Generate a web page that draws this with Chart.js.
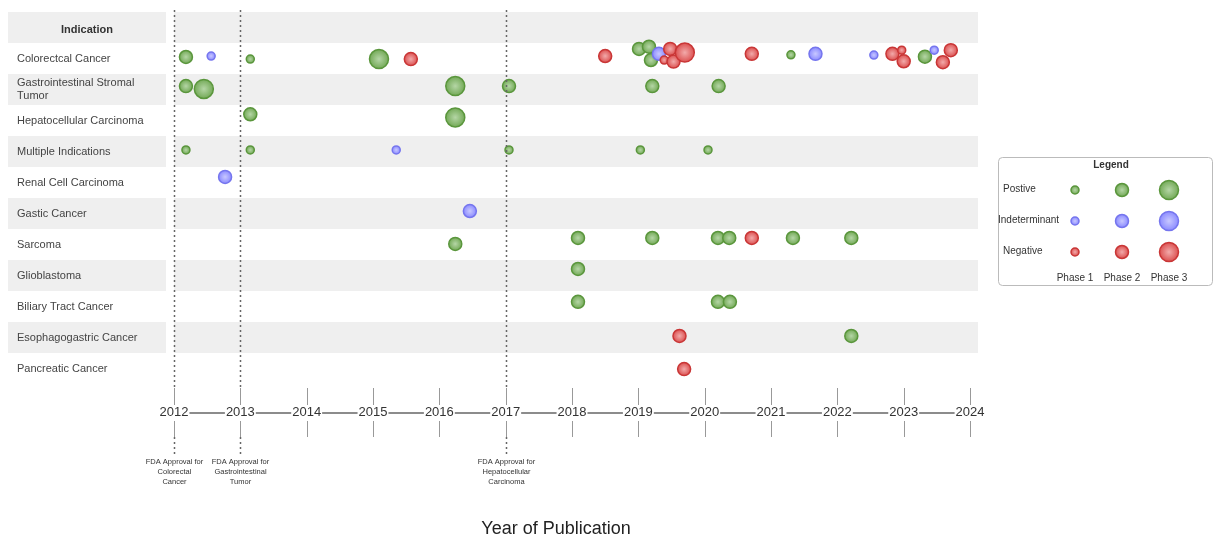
<!DOCTYPE html>
<html>
<head>
<meta charset="utf-8">
<script src="https://cdn.jsdelivr.net/npm/chart.js@4.4.1/dist/chart.umd.min.js"></script>
<style>
  body { margin: 0; background: #fff; }
  #wrap { width: 1214px; height: 537px; }
</style>
</head>
<body>
<div id="wrap"><canvas id="timeline"></canvas></div>
<script>
// rows, top to bottom (row 0 is the "Indication" header)
const indications = [
  'Colorectcal Cancer', 'Gastrointestinal Stromal Tumor', 'Hepatocellular Carcinoma',
  'Multiple Indications', 'Renal Cell Carcinoma', 'Gastic Cancer', 'Sarcoma',
  'Glioblastoma', 'Biliary Tract Cancer', 'Esophagogastric Cancer', 'Pancreatic Cancer'
];
const yearTicks = [2012, 2013, 2014, 2015, 2016, 2017, 2018, 2019, 2020, 2021, 2022, 2023, 2024];
const outcomes = ['Postive', 'Indeterminant', 'Negative'];
const phaseLabels = ['Phase 1', 'Phase 2', 'Phase 3'];

const approvalYears = [2012, 2013, 2017];
const approvalNotes = [
  ['FDA Approval for', 'Colorectal', 'Cancer'],
  ['FDA Approval for', 'Gastrointestinal', 'Tumor'],
  ['FDA Approval for', 'Hepatocellular', 'Carcinoma']
];

// positive
const posYear  = [2012.18, 2013.15, 2015.09, 2019.01, 2019.16, 2019.19, 2021.30, 2023.32,
                  2012.18, 2012.45, 2016.24, 2017.05, 2019.21, 2020.21,
                  2013.15, 2016.24,
                  2012.18, 2013.15, 2017.05, 2019.03, 2020.05,
                  2016.24, 2018.09, 2019.21, 2020.20, 2020.37, 2021.33, 2022.21,
                  2018.09,
                  2018.09, 2020.20, 2020.38,
                  2022.21];
const posRow   = [0.95, 1.02, 1.02, 0.69, 0.62, 1.05, 0.88, 0.94,
                  1.89, 1.98, 1.89, 1.89, 1.89, 1.89,
                  2.80, 2.90,
                  3.95, 3.95, 3.95, 3.95, 3.95,
                  6.98, 6.79, 6.79, 6.79, 6.79, 6.79, 6.79,
                  7.79,
                  8.85, 8.85, 8.85,
                  9.95];
const posPhase = [2, 1, 3, 2, 2, 2, 1, 2,
                  2, 3, 3, 2, 2, 2,
                  2, 3,
                  1, 1, 1, 1, 1,
                  2, 2, 2, 2, 2, 2, 2,
                  2,
                  2, 2, 2,
                  2];

// indeterminant
const indYear  = [2012.56, 2019.31, 2021.67, 2022.55, 2023.46, 2015.35, 2012.77, 2016.46];
const indRow   = [0.92, 0.85, 0.85, 0.89, 0.73, 3.95, 4.82, 5.92];
const indPhase = [1, 2, 2, 1, 1, 1, 2, 2];

// negative
const negYear  = [2015.57, 2018.50, 2019.39, 2019.48, 2019.53, 2019.70, 2020.71, 2022.83,
                  2022.97, 2023.00, 2023.59, 2023.71, 2020.71, 2019.62, 2019.69];
const negRow   = [1.02, 0.92, 1.05, 0.69, 1.10, 0.81, 0.85, 0.85,
                  0.73, 1.09, 1.12, 0.73, 6.79, 9.95, 11.02];
const negPhase = [2, 2, 1, 2, 2, 3, 2, 2,
                  1, 2, 2, 2, 2, 2, 2];

const phaseRadius = [4, 6.5, 9.5];
const palettes = [
  { center: '#b5d6a6', edge: '#74aa58', border: '#5a963c' },
  { center: '#c8c8ff', edge: '#8c8cff', border: '#7575ee' },
  { center: '#f2aaaa', edge: '#dc5252', border: '#c93636' }
];
const family = '"Liberation Sans", Arial, sans-serif';
Chart.defaults.font.family = family;

function points(years, rows, phases) {
  return years.map((x, i) => ({ x: x, y: rows[i], r: phaseRadius[phases[i] - 1] }));
}

function radial(ctx, px, py, r, pal) {
  const g = ctx.createRadialGradient(px, py, 0, px, py, r);
  g.addColorStop(0, pal.center);
  g.addColorStop(1, pal.edge);
  return g;
}

function shade(pal) {
  return c => {
    if (c.type !== 'data' || !c.raw) return pal.edge;
    const s = c.chart.scales;
    if (!s.x || !s.y) return pal.edge;
    const px = s.x.getPixelForValue(c.raw.x);
    const py = s.y.getPixelForValue(c.raw.y);
    if (!isFinite(px) || !isFinite(py)) return pal.edge;
    return radial(c.chart.ctx, px, py, c.raw.r, pal);
  };
}

const rowBands = {
  id: 'rowBands',
  beforeDraw(chart) {
    const { ctx, chartArea, scales: { y } } = chart;
    ctx.save();
    ctx.fillStyle = '#efefef';
    for (let v = 0; v <= indications.length; v += 2) {
      const top = y.getPixelForValue(v - 0.5);
      const h = y.getPixelForValue(v + 0.5) - top;
      ctx.fillRect(8, top, 158, h);
      ctx.fillRect(chartArea.left, top, chartArea.right - chartArea.left, h);
    }
    ctx.font = 'bold 11px ' + family;
    ctx.fillStyle = '#333';
    ctx.textAlign = 'center';
    ctx.textBaseline = 'middle';
    ctx.fillText('Indication', 87, y.getPixelForValue(0) + 2);
    ctx.restore();
  }
};

const timelineAxis = {
  id: 'timelineAxis',
  afterDraw(chart) {
    const { ctx, chartArea, scales: { x } } = chart;
    const mid = x.top + 29;
    ctx.save();
    ctx.font = '13px ' + family;
    // connecting line between year labels
    ctx.strokeStyle = '#666';
    ctx.lineWidth = 1.6;
    for (let i = 0; i < yearTicks.length - 1; i++) {
      const a = x.getPixelForValue(yearTicks[i]) + ctx.measureText(String(yearTicks[i])).width / 2 + 1;
      const b = x.getPixelForValue(yearTicks[i + 1]) - ctx.measureText(String(yearTicks[i + 1])).width / 2 - 1;
      ctx.beginPath(); ctx.moveTo(a, mid); ctx.lineTo(b, mid); ctx.stroke();
    }
    // ticks above and below
    ctx.strokeStyle = '#999';
    ctx.lineWidth = 1;
    yearTicks.forEach(v => {
      const px = Math.round(x.getPixelForValue(v)) + 0.5;
      ctx.beginPath();
      ctx.moveTo(px, x.top + 4); ctx.lineTo(px, x.top + 21);
      ctx.moveTo(px, x.top + 37); ctx.lineTo(px, x.top + 53);
      ctx.stroke();
    });
    // approval markers
    approvalYears.forEach((v, i) => {
      const px = Math.round(x.getPixelForValue(v)) + 0.5;
      ctx.strokeStyle = '#666';
      ctx.lineWidth = 1.5;
      ctx.setLineDash([2, 3]);
      ctx.beginPath();
      ctx.moveTo(px, chartArea.top - 2); ctx.lineTo(px, x.top + 4);
      ctx.moveTo(px, x.top + 53); ctx.lineTo(px, x.top + 72);
      ctx.stroke();
      ctx.setLineDash([]);
      ctx.fillStyle = '#333';
      ctx.font = '7.5px ' + family;
      ctx.textAlign = 'center';
      ctx.textBaseline = 'middle';
      approvalNotes[i].forEach((t, j) => ctx.fillText(t, px, x.top + 78 + j * 10));
    });
    // axis title
    ctx.fillStyle = '#222';
    ctx.font = '18px ' + family;
    ctx.textAlign = 'center';
    ctx.textBaseline = 'middle';
    ctx.fillText('Year of Publication', 556, x.bottom - 8);
    ctx.restore();
  }
};

const bubbleLegend = {
  id: 'bubbleLegend',
  afterDraw(chart) {
    const ctx = chart.ctx;
    const colX = [1075, 1122, 1169];
    const rowY = [190, 221, 252];
    ctx.save();
    ctx.strokeStyle = '#bbb';
    ctx.lineWidth = 1;
    ctx.beginPath();
    ctx.roundRect(998.5, 157.5, 214, 128, 4);
    ctx.stroke();
    ctx.fillStyle = '#333';
    ctx.textBaseline = 'middle';
    ctx.textAlign = 'center';
    ctx.font = 'bold 10px ' + family;
    ctx.fillText('Legend', 1111, 165);
    ctx.font = '10px ' + family;
    phaseLabels.forEach((t, j) => ctx.fillText(t, colX[j], 278));
    ctx.textAlign = 'left';
    outcomes.forEach((t, i) => {
      ctx.fillStyle = '#333';
      ctx.fillText(t, i === 1 ? 998 : 1003, rowY[i] - 1);
      phaseRadius.forEach((r, j) => {
        ctx.beginPath();
        ctx.arc(colX[j], rowY[i], r, 0, Math.PI * 2);
        ctx.fillStyle = radial(ctx, colX[j], rowY[i], r, palettes[i]);
        ctx.fill();
        ctx.strokeStyle = palettes[i].border;
        ctx.lineWidth = 1.5;
        ctx.stroke();
      });
    });
    ctx.restore();
  }
};

const series = [
  points(posYear, posRow, posPhase),
  points(indYear, indRow, indPhase),
  points(negYear, negRow, negPhase)
];

new Chart(document.getElementById('timeline'), {
  type: 'bubble',
  data: {
    datasets: outcomes.map((name, i) => ({
      label: name,
      data: series[i],
      order: 3 - i,
      backgroundColor: shade(palettes[i]),
      borderColor: palettes[i].border,
      borderWidth: 1.5,
      clip: false
    }))
  },
  options: {
    responsive: true,
    maintainAspectRatio: false,
    animation: false,
    layout: { padding: { left: 17, top: 12, right: 236, bottom: 0 } },
    plugins: { legend: { display: false }, tooltip: { enabled: false } },
    scales: {
      x: {
        type: 'linear',
        position: 'bottom',
        min: 2012,
        max: 2024.12,
        afterBuildTicks: s => { s.ticks = yearTicks.map(v => ({ value: v })); },
        afterFit: s => { s.height = 153; },
        grid: { display: false, drawTicks: false },
        border: { display: false },
        ticks: {
          autoSkip: false, maxRotation: 0, padding: 21, color: '#333',
          font: { size: 13 },
          callback: v => String(v)
        }
      },
      y: {
        type: 'linear',
        reverse: true,
        min: -0.5,
        max: 11.5,
        afterBuildTicks: s => { s.ticks = indications.map((_, i) => ({ value: i + 1 })); },
        afterFit: s => { s.width = 157; },
        grid: { display: false, drawTicks: false },
        border: { display: false },
        ticks: {
          autoSkip: false, crossAlign: 'far', padding: 0, color: '#444',
          font: { size: 11 },
          callback: v => {
            const t = indications[v - 1];
            if (t.length <= 25) return t;
            const cut = t.lastIndexOf(' ');
            return [t.slice(0, cut), t.slice(cut + 1)];
          }
        }
      }
    }
  },
  plugins: [rowBands, timelineAxis, bubbleLegend]
});
</script>
</body>
</html>
